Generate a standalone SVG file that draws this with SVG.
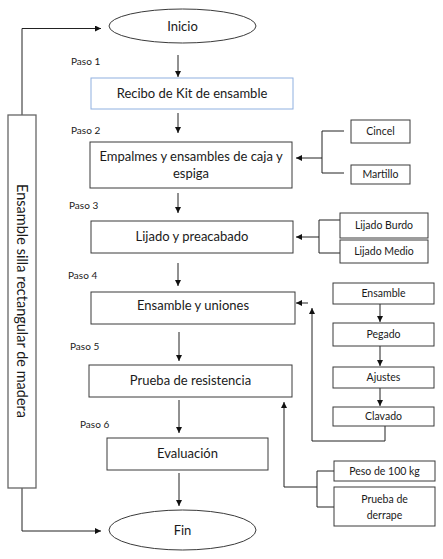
<svg xmlns="http://www.w3.org/2000/svg" width="443" height="559" viewBox="0 0 443 559">
<style>
text{font-family:Lato,"Liberation Sans",sans-serif;fill:#1a1a1a}
.t{font-size:13px;text-anchor:middle}
.s{font-size:10.5px;text-anchor:middle}
.p{font-size:10px}
.b{fill:#fff;stroke:#3a3a3a;stroke-width:1}
.c line,.c polyline{fill:none;stroke:#222;stroke-width:1}
.g{fill:none;stroke:#555;stroke-width:1}
</style>
<defs>
<marker id="a" markerUnits="userSpaceOnUse" markerWidth="7" markerHeight="7" refX="6" refY="3" orient="auto">
<path d="M0,0 L6,3 L0,6 z" fill="#111"/>
</marker>
</defs>
<rect width="443" height="559" fill="#fff"/>
<g class="c">
<polyline points="22,115 22,28.5 101,28.5" marker-end="url(#a)"/>
<polyline points="22,488 22,531 101,531" marker-end="url(#a)"/>
<line x1="178" y1="55" x2="178" y2="77" marker-end="url(#a)"/>
<line x1="178" y1="113" x2="178" y2="133" marker-end="url(#a)"/>
<line x1="178" y1="193" x2="178" y2="213" marker-end="url(#a)"/>
<line x1="178" y1="263" x2="178" y2="286" marker-end="url(#a)"/>
<line x1="179" y1="332" x2="179" y2="361" marker-end="url(#a)"/>
<line x1="179" y1="400" x2="179" y2="433" marker-end="url(#a)"/>
<line x1="179" y1="473" x2="179" y2="506" marker-end="url(#a)"/>
<polyline points="344,131 322,131 322,173 344,173"/>
<line x1="322" y1="158" x2="296" y2="158" marker-end="url(#a)"/>
<polyline points="340,220 319,220 319,253 340,253"/>
<line x1="319" y1="237" x2="296" y2="237" marker-end="url(#a)"/>
<line x1="380" y1="304" x2="380" y2="322" marker-end="url(#a)"/>
<line x1="380" y1="346" x2="380" y2="366" marker-end="url(#a)"/>
<line x1="380" y1="388" x2="380" y2="406" marker-end="url(#a)"/>
<polyline points="385,426 385,441 312,441 312,308" marker-end="url(#a)"/>
<line x1="308" y1="303" x2="296" y2="303" marker-end="url(#a)"/>
<polyline points="334,471 317,471 317,507 334,507"/>
<polyline points="317,487 284,487 284,402" marker-end="url(#a)"/>
</g>
<g id="inicio"><ellipse cx="182.5" cy="26" rx="73.5" ry="17" class="b"/><text class="t" x="182.5" y="31">Inicio</text></g>
<g id="fin"><ellipse cx="182.5" cy="530" rx="73.5" ry="20" class="b"/><text class="t" x="182.5" y="535">Fin</text></g>
<g id="lateral"><rect x="8" y="115" width="28" height="373" fill="#fff" stroke="#666" stroke-width="1.3"/><text transform="translate(17,301) rotate(90)" style="font-size:14.5px;text-anchor:middle">Ensamble silla rectangular de madera</text></g>
<g id="paso1"><text class="p" x="71" y="65">Paso 1</text></g>
<g id="recibo"><rect x="91" y="78" width="202" height="31" fill="#fff" stroke="#8fb0e0" stroke-width="1"/><text class="t" x="192" y="98">Recibo de Kit de ensamble</text></g>
<g id="paso2"><text class="p" x="71" y="134">Paso 2</text></g>
<g id="empalmes"><rect x="90" y="142" width="202" height="46" class="b"/><text class="t" x="191" y="161">Empalmes y ensambles de caja y</text><text class="t" x="191" y="178">espiga</text></g>
<g id="cincel"><rect x="351" y="120" width="59" height="23" class="b"/><text class="s" x="380.5" y="135">Cincel</text></g>
<g id="martillo"><rect x="351" y="165" width="59" height="19" class="b"/><text class="s" x="380.5" y="178">Martillo</text></g>
<g id="paso3"><text class="p" x="69" y="209">Paso 3</text></g>
<g id="lijado"><rect x="91" y="221" width="202" height="32" class="b"/><text class="t" x="192" y="241">Lijado y preacabado</text></g>
<g id="burdo"><rect x="340" y="213" width="88" height="25" class="b"/><text class="s" x="384" y="229">Lijado Burdo</text></g>
<g id="medio"><rect x="340" y="240" width="88" height="23" class="b"/><text class="s" x="384" y="255">Lijado Medio</text></g>
<g id="paso4"><text class="p" x="68" y="279">Paso 4</text></g>
<g id="ensamble"><rect x="91" y="292" width="204" height="32" class="b"/><text class="t" x="193" y="310">Ensamble y uniones</text></g>
<g id="ens2"><rect x="333" y="283" width="101" height="21" class="b"/><text class="s" x="383.5" y="297">Ensamble</text></g>
<g id="pegado"><rect x="333" y="323" width="101" height="23" class="b"/><text class="s" x="383.5" y="338">Pegado</text></g>
<g id="ajustes"><rect x="333" y="367" width="101" height="21" class="b"/><text class="s" x="383.5" y="381">Ajustes</text></g>
<g id="clavado"><rect x="333" y="407" width="101" height="19" class="b"/><text class="s" x="383.5" y="420">Clavado</text></g>
<g id="paso5"><text class="p" x="70" y="350">Paso 5</text></g>
<g id="prueba"><rect x="89" y="365" width="203" height="32" class="b"/><text class="t" x="190.5" y="385">Prueba de resistencia</text></g>
<g id="paso6"><text class="p" x="80" y="428">Paso 6</text></g>
<g id="evaluacion"><rect x="107" y="438" width="161" height="32" class="b"/><text class="t" x="187.5" y="458">Evaluación</text></g>
<g id="peso"><rect x="334" y="461" width="101" height="20" class="b"/><text class="s" x="384.5" y="475">Peso de 100 kg</text></g>
<g id="derrape"><rect x="334" y="487" width="101" height="39" class="b"/><text class="s" x="384.5" y="503">Prueba de</text><text class="s" x="384.5" y="519">derrape</text></g>
</svg>
